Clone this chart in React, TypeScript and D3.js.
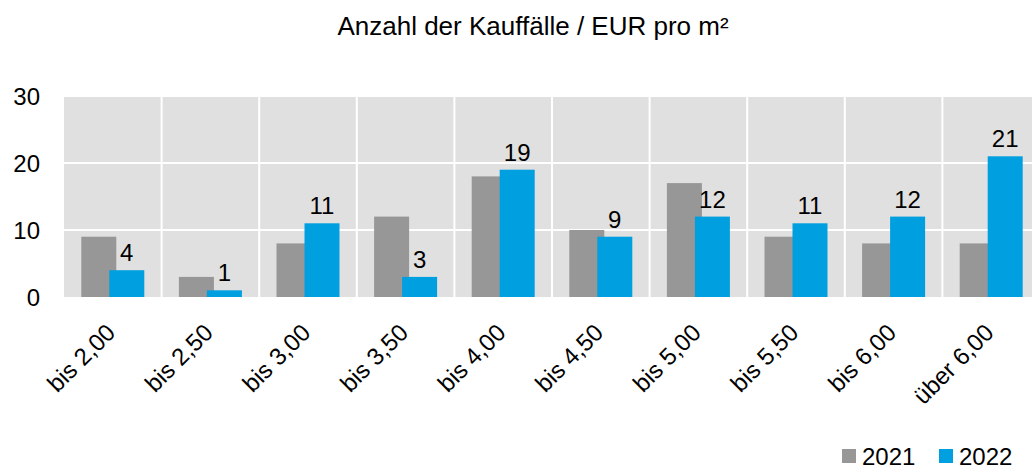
import React, { useRef, useEffect } from 'react';
import * as d3 from 'd3';

const categories = ['bis 2,00', 'bis 2,50', 'bis 3,00', 'bis 3,50', 'bis 4,00', 'bis 4,50', 'bis 5,00', 'bis 5,50', 'bis 6,00', 'über 6,00'];
const values2021 = [9, 3, 8, 12, 18, 10, 17, 9, 8, 8];
const values2022 = [4, 1, 11, 3, 19, 9, 12, 11, 12, 21];
const yTicks = [0, 10, 20, 30];

const GREY = '#979797';
const BLUE = '#009FDF';
const FONT = 'Liberation Sans, Arial, sans-serif';

const App: React.FC = () => {
  const svgRef = useRef<SVGSVGElement | null>(null);

  useEffect(() => {
    const svg = d3.select(svgRef.current!);
    svg.selectAll('*').remove();

    const left = 64, right = 1040, top = 96, bottom = 297;

    const x = d3.scaleBand<string>().domain(categories).range([left, right]);
    const y = d3.scaleLinear().domain([0, 30]).range([bottom, top]);
    const bw = 35;
    const overlap = 7;
    const pad = (x.bandwidth() - (2 * bw - overlap)) / 2;

    svg.append('rect')
      .attr('x', left).attr('y', top)
      .attr('width', right - left).attr('height', bottom - top)
      .attr('fill', '#E0E0E0');

    // grid
    svg.append('g').selectAll('line').data(yTicks.slice(1)).join('line')
      .attr('x1', left).attr('x2', right)
      .attr('y1', (d) => y(d)).attr('y2', (d) => y(d))
      .attr('stroke', '#fff').attr('stroke-width', 2);
    svg.append('g').selectAll('line').data(categories.slice(1)).join('line')
      .attr('x1', (d) => x(d)!).attr('x2', (d) => x(d)!)
      .attr('y1', top).attr('y2', bottom)
      .attr('stroke', '#fff').attr('stroke-width', 2);

    svg.append('g').selectAll('rect').data(categories).join('rect')
      .attr('x', (d) => x(d)! + pad)
      .attr('y', (d, i) => y(values2021[i]))
      .attr('width', bw)
      .attr('height', (d, i) => bottom - y(values2021[i]))
      .attr('fill', GREY);

    svg.append('g').selectAll('rect').data(categories).join('rect')
      .attr('x', (d) => x(d)! + pad + bw - overlap)
      .attr('y', (d, i) => y(values2022[i]))
      .attr('width', bw)
      .attr('height', (d, i) => bottom - y(values2022[i]))
      .attr('fill', BLUE);

    // data labels
    svg.append('g').selectAll('text').data(categories).join('text')
      .attr('x', (d) => x(d)! + pad + bw - overlap + bw / 2)
      .attr('y', (d, i) => y(values2022[i]) - 9)
      .attr('text-anchor', 'middle')
      .attr('font-family', FONT).attr('font-size', 24).attr('fill', '#000')
      .text((d, i) => values2022[i]);

    // y axis labels
    svg.append('g').selectAll('text').data(yTicks).join('text')
      .attr('x', 40)
      .attr('y', (d) => y(d) + 9)
      .attr('text-anchor', 'end')
      .attr('font-family', FONT).attr('font-size', 24).attr('fill', '#000')
      .text((d) => d);

    // x labels
    svg.append('g').selectAll('text').data(categories).join('text')
      .attr('transform', (d) => `translate(${x(d)! + x.bandwidth() / 2 + 4},${bottom + 37}) rotate(-45)`)
      .attr('text-anchor', 'end')
      .attr('font-family', FONT).attr('font-size', 24).attr('fill', '#000')
      .text((d) => d);

    // title
    svg.append('text')
      .attr('x', 533).attr('y', 35)
      .attr('text-anchor', 'middle')
      .attr('font-family', FONT).attr('font-size', 26).attr('fill', '#000')
      .text('Anzahl der Kauffälle / EUR pro m²');

    // legend
    const legend = [{ label: '2021', color: GREY, x: 842 }, { label: '2022', color: BLUE, x: 939 }];
    const lg = svg.append('g').selectAll('g').data(legend).join('g');
    lg.append('rect')
      .attr('x', (d) => d.x).attr('y', 449)
      .attr('width', 14).attr('height', 14)
      .attr('fill', (d) => d.color);
    lg.append('text')
      .attr('x', (d) => d.x + 20).attr('y', 465)
      .attr('font-family', FONT).attr('font-size', 24).attr('fill', '#000')
      .text((d) => d.label);
  }, []);

  return <svg ref={svgRef} width={1032} height={470} style={{ display: 'block', position: 'absolute', left: 0, top: 0 }}></svg>;
};

export default App;
